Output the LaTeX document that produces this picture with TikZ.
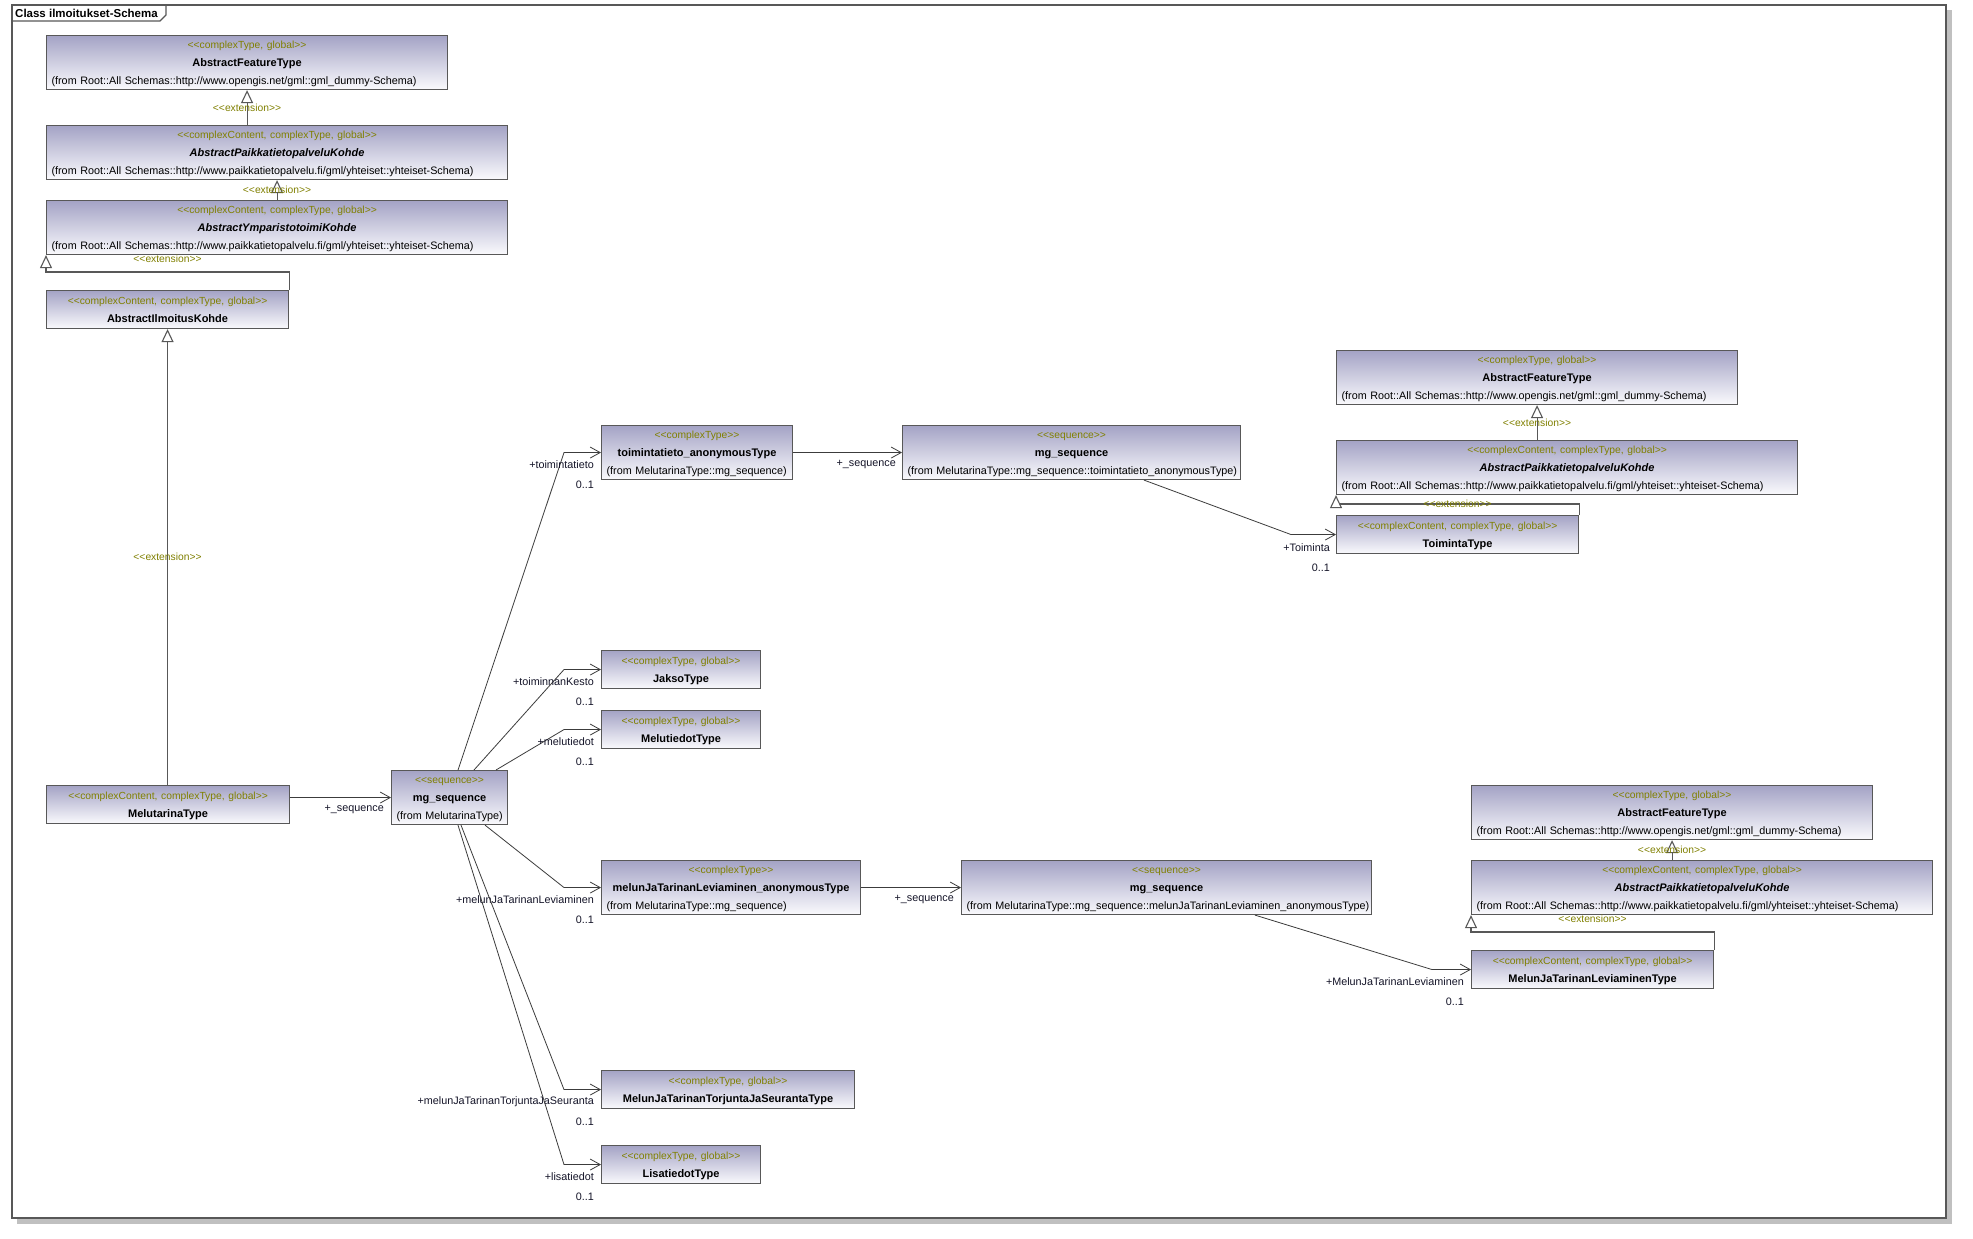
\documentclass[tikz,border=0pt]{standalone}
\usepackage{fontspec}
\setmainfont{Liberation Sans}[Ligatures=TeXOff]
\usetikzlibrary{arrows.meta,positioning}
\definecolor{boxtop}{RGB}{164,163,197}
\definecolor{boxbot}{RGB}{250,250,253}
\definecolor{boxline}{RGB}{88,88,88}
\definecolor{stcol}{RGB}{128,128,0}
\definecolor{lncol}{RGB}{60,60,60}
\definecolor{labcol}{RGB}{20,20,40}
\definecolor{shadowcol}{RGB}{192,192,192}
\newcommand{\lnstrut}{\rule[-5pt]{0pt}{18pt}}
\newcommand{\sttype}[1]{\lnstrut{\fontsize{10.3}{18}\selectfont\color{stcol}#1}}
\newcommand{\clsname}[1]{\lnstrut{\fontsize{11}{18}\selectfont\bfseries #1}}
\newcommand{\fromln}[1]{\lnstrut\makebox[\linewidth][l]{#1}}

\begin{document}
\begin{tikzpicture}[x=1pt, y=-1pt,
  cls/.style={draw=boxline, line width=1.1pt, top color=boxtop, bottom color=boxbot,
    anchor=north west, inner xsep=5pt, inner ysep=0pt, align=center,
    font=\fontsize{10.8}{18}\selectfont, minimum height=38pt},
  gen/.style={draw=boxline, line width=1.1pt, -{Triangle[length=13pt, width=12pt, fill=white]}},
  assoc/.style={draw=lncol, line width=0.8pt, -{Straight Barb[length=10pt, width=11pt]}},
  role/.style={anchor=east, inner sep=0pt, text=labcol, font=\fontsize{10.8}{13}\selectfont},
  extlbl/.style={inner sep=0pt, text=stcol, font=\fontsize{10.3}{13}\selectfont}]
\useasboundingbox (0,0) rectangle (1973,1239);
\fill[white] (0,0) rectangle (1973,1239);
% frame
\fill[shadowcol] (17,10) rectangle (1952,1224);
\draw[boxline, fill=white, line width=1.1pt] (12,5) rectangle (1946,1218);
\node[anchor=west, inner sep=0pt, font=\fontsize{11.5}{13}\selectfont\bfseries] (title) at (15,13) {Class ilmoitukset-Schema};
\draw[boxline, line width=1.1pt] (12,21) -- (160,21) -- (166,15) -- (166,5);

% upper left inheritance chain
\node[cls, text width=391pt] (aftA) at (46,35) {\sttype{<<complexType, global>>}\\ \clsname{AbstractFeatureType}\\ \fromln{(from Root::All Schemas::http://www.opengis.net/gml::gml\_dummy-Schema)}};
\node[cls, text width=451pt] (apkA) at (46,125) {\sttype{<<complexContent, complexType, global>>}\\ \clsname{\itshape AbstractPaikkatietopalveluKohde}\\ \fromln{(from Root::All Schemas::http://www.paikkatietopalvelu.fi/gml/yhteiset::yhteiset-Schema)}};
\node[cls, text width=451pt] (aykA) at (46,200) {\sttype{<<complexContent, complexType, global>>}\\ \clsname{\itshape AbstractYmparistotoimiKohde}\\ \fromln{(from Root::All Schemas::http://www.paikkatietopalvelu.fi/gml/yhteiset::yhteiset-Schema)}};
\node[cls, text width=232pt] (aik) at (46,290) {\sttype{<<complexContent, complexType, global>>}\\ \clsname{AbstractIlmoitusKohde}};
\node[cls, text width=233pt] (mt) at (46,785) {\sttype{<<complexContent, complexType, global>>}\\ \clsname{MelutarinaType}};
\node[cls, text width=106pt] (mgs) at (391,770) {\sttype{<<sequence>>}\\ \clsname{mg\_sequence}\\ \fromln{(from MelutarinaType)}};

% toimintatieto branch
\node[cls, text width=181pt] (tat) at (601,425) {\sttype{<<complexType>>}\\ \clsname{toimintatieto\_anonymousType}\\ \fromln{(from MelutarinaType::mg\_sequence)}};
\node[cls, text width=328pt] (mgsT) at (902,425) {\sttype{<<sequence>>}\\ \clsname{mg\_sequence}\\ \fromln{(from MelutarinaType::mg\_sequence::toimintatieto\_anonymousType)}};
\node[cls, text width=391pt] (aftB) at (1336,350) {\sttype{<<complexType, global>>}\\ \clsname{AbstractFeatureType}\\ \fromln{(from Root::All Schemas::http://www.opengis.net/gml::gml\_dummy-Schema)}};
\node[cls, text width=451pt] (apkB) at (1336,440) {\sttype{<<complexContent, complexType, global>>}\\ \clsname{\itshape AbstractPaikkatietopalveluKohde}\\ \fromln{(from Root::All Schemas::http://www.paikkatietopalvelu.fi/gml/yhteiset::yhteiset-Schema)}};
\node[cls, text width=232pt] (tt) at (1336,515) {\sttype{<<complexContent, complexType, global>>}\\ \clsname{ToimintaType}};

% simple types
\node[cls, text width=149pt] (jt) at (601,650) {\sttype{<<complexType, global>>}\\ \clsname{JaksoType}};
\node[cls, text width=149pt] (mdt) at (601,710) {\sttype{<<complexType, global>>}\\ \clsname{MelutiedotType}};
\node[cls, text width=243pt] (mjtts) at (601,1070) {\sttype{<<complexType, global>>}\\ \clsname{MelunJaTarinanTorjuntaJaSeurantaType}};
\node[cls, text width=149pt] (lt) at (601,1145) {\sttype{<<complexType, global>>}\\ \clsname{LisatiedotType}};

% leviaminen branch
\node[cls, text width=249pt] (mjtl) at (601,860) {\sttype{<<complexType>>}\\ \clsname{melunJaTarinanLeviaminen\_anonymousType}\\ \fromln{(from MelutarinaType::mg\_sequence)}};
\node[cls, text width=400pt] (mgsL) at (961,860) {\sttype{<<sequence>>}\\ \clsname{mg\_sequence}\\ \fromln{(from MelutarinaType::mg\_sequence::melunJaTarinanLeviaminen\_anonymousType)}};
\node[cls, text width=391pt] (aftC) at (1471,785) {\sttype{<<complexType, global>>}\\ \clsname{AbstractFeatureType}\\ \fromln{(from Root::All Schemas::http://www.opengis.net/gml::gml\_dummy-Schema)}};
\node[cls, text width=451pt] (apkC) at (1471,860) {\sttype{<<complexContent, complexType, global>>}\\ \clsname{\itshape AbstractPaikkatietopalveluKohde}\\ \fromln{(from Root::All Schemas::http://www.paikkatietopalvelu.fi/gml/yhteiset::yhteiset-Schema)}};
\node[cls, text width=232pt] (mjtlt) at (1471,950) {\sttype{<<complexContent, complexType, global>>}\\ \clsname{MelunJaTarinanLeviaminenType}};

% extensions
\draw[gen] (apkA.north -| aftA.south) -- node[extlbl] (extA1) {<<extension>>} (aftA.south);
\draw[gen] (aykA.north) -- node[extlbl] (extA2) {<<extension>>} (apkA.south);
\draw[gen] (aik.north east) -- ++(0,-18) -| node[extlbl, pos=0.25, yshift=13pt] (extA3) {<<extension>>} (aykA.south west);
\draw[gen] (mt.north -| aik.south) -- node[extlbl] (extA4) {<<extension>>} (aik.south);
\draw[gen] (apkB.north -| aftB.south) -- node[extlbl] (extB1) {<<extension>>} (aftB.south);
\draw[gen] (tt.north east) -- ++(0,-11) -| node[extlbl, pos=0.25] (extB2) {<<extension>>} (apkB.south west);
\draw[gen] (apkC.north -| aftC.south) -- node[extlbl] (extC1) {<<extension>>} (aftC.south);
\draw[gen] (mjtlt.north east) -- ++(0,-18) -| node[extlbl, pos=0.25, yshift=13pt] (extC2) {<<extension>>} (apkC.south west);

% associations
\draw[assoc] (mgs.west -| mt.east) -- (mgs.west);
\node[role] (mgs-role) at ([shift={(-7,12)}]mgs.west) {+\_sequence};
\draw[assoc] (tat.east) -- (mgsT.west);
\node[role] (mgsT-role) at ([shift={(-6,12)}]mgsT.west) {+\_sequence};
\draw[assoc] (mjtl.east) -- (mgsL.west);
\node[role] (mgsL-role) at ([shift={(-7,12)}]mgsL.west) {+\_sequence};

\foreach \tg/\sx/\rl in {tat/67/+toimintatieto, jt/83/+toiminnanKesto, mdt/105/+melutiedot}{
  \draw[assoc] ([xshift=\sx pt]mgs.north west) -- ([xshift=-37pt]\tg.west) -- (\tg.west);
  \node[role] (\tg-role) at ([shift={(-7,12)}]\tg.west) {\rl};
  \node[role] (\tg-mult) at ([shift={(-7,32)}]\tg.west) {0..1};
}
\foreach \tg/\sx/\rl in {mjtl/94/+melunJaTarinanLeviaminen, mjtts/70/+melunJaTarinanTorjuntaJaSeuranta, lt/67/+lisatiedot}{
  \draw[assoc] ([xshift=\sx pt]mgs.south west) -- ([xshift=-37pt]\tg.west) -- (\tg.west);
  \node[role] (\tg-role) at ([shift={(-7,12)}]\tg.west) {\rl};
  \node[role] (\tg-mult) at ([shift={(-7,32)}]\tg.west) {0..1};
}
\draw[assoc] ([xshift=242pt]mgsT.south west) -- ([xshift=-45pt]tt.west) -- (tt.west);
\node[role] (tt-role) at ([shift={(-6,13)}]tt.west) {+Toiminta};
\node[role] (tt-mult) at ([shift={(-6,33)}]tt.west) {0..1};
\draw[assoc] ([xshift=294pt]mgsL.south west) -- ([xshift=-39pt]mjtlt.west) -- (mjtlt.west);
\node[role] (mjtlt-role) at ([shift={(-7,12)}]mjtlt.west) {+MelunJaTarinanLeviaminen};
\node[role] (mjtlt-mult) at ([shift={(-7,32)}]mjtlt.west) {0..1};
\end{tikzpicture}
\end{document}
